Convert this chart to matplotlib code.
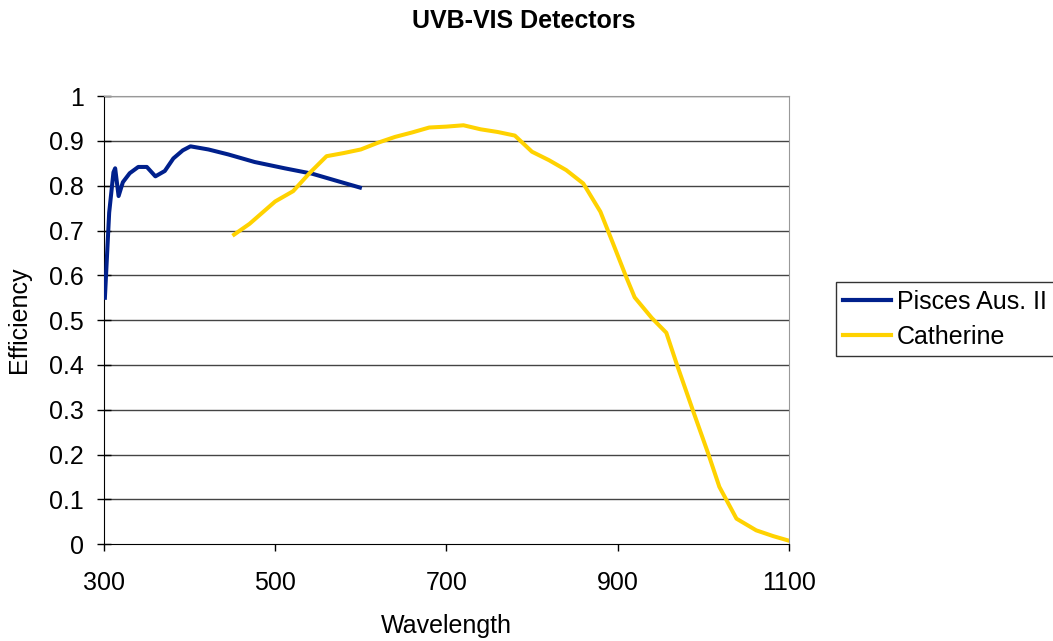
import matplotlib
matplotlib.use("Agg")
import matplotlib.pyplot as plt

plt.rcParams['font.family'] = ['Liberation Sans', 'DejaVu Sans']

# ==========================
# Data
# ==========================
pisces_wl = [301, 306, 311, 313, 317, 322, 330, 340, 350, 360, 371, 381, 392, 401,
             422, 445, 476, 511, 543, 570, 599]
pisces_eff = [0.55, 0.74, 0.83, 0.839, 0.777, 0.808, 0.828, 0.842, 0.842, 0.821, 0.833,
              0.861, 0.879, 0.888, 0.881, 0.870, 0.853, 0.839, 0.827, 0.812, 0.796]

cath_wl = [452, 470, 485, 500, 521, 540, 560, 580, 600, 620, 640, 660, 680, 700, 720,
           740, 760, 780, 800, 820, 840, 860, 880, 895, 910, 920, 940, 957, 969, 988,
           1006, 1019, 1039, 1062, 1082, 1100]
cath_eff = [0.691, 0.715, 0.74, 0.765, 0.788, 0.828, 0.866, 0.873, 0.881, 0.896, 0.909,
            0.919, 0.930, 0.932, 0.935, 0.926, 0.920, 0.912, 0.876, 0.857, 0.835, 0.805,
            0.742, 0.67, 0.597, 0.551, 0.505, 0.472, 0.403, 0.299, 0.202, 0.128, 0.057,
            0.031, 0.018, 0.008]

x_ticks = [300, 500, 700, 900, 1100]
y_ticks = [0, 0.1, 0.2, 0.3, 0.4, 0.5, 0.6, 0.7, 0.8, 0.9, 1]
y_labels = ['0', '0.1', '0.2', '0.3', '0.4', '0.5', '0.6', '0.7', '0.8', '0.9', '1']

# ==========================
# Plot
# ==========================
fig = plt.figure(figsize=(10.53, 6.41), dpi=100)
ax = fig.add_axes([0.0988, 0.151, 0.6502, 0.699])

for y in y_ticks[1:]:
    ax.axhline(y, color='#444444', lw=1.0, zorder=1)

ax.plot(pisces_wl, pisces_eff, color='#00208C', lw=2.9, label='Pisces Aus. II', zorder=3)
ax.plot(cath_wl, cath_eff, color='#FFD200', lw=2.9, label='Catherine', zorder=3)

ax.set_xlim(300, 1100)
ax.set_ylim(0, 1)
ax.set_xticks(x_ticks)
ax.set_xticklabels([str(v) for v in x_ticks])
ax.set_yticks(y_ticks)
ax.set_yticklabels(y_labels)
ax.tick_params(labelsize=18, width=1, colors='black')
ax.tick_params(axis='x', direction='out', length=5, pad=14)
ax.tick_params(axis='y', direction='inout', length=9.5, pad=9.5)

ax.spines['left'].set_color('black')
ax.spines['bottom'].set_color('black')
ax.spines['right'].set_color('#999999')
ax.spines['top'].set_color('#999999')

ax.set_xlabel('Wavelength', fontsize=18, labelpad=14)
ax.set_ylabel('Efficiency', fontsize=18, labelpad=13)
fig.text(0.497, 1 - 21 / 641, 'UVB-VIS Detectors', fontsize=18, fontweight='bold',
         ha='center', va='center')

leg = ax.legend(loc='upper left', bbox_to_anchor=(1.0686, 0.585), fontsize=18,
                frameon=True, fancybox=False, handlelength=1.9, borderpad=0.3,
                labelspacing=0.45, handletextpad=0.25, borderaxespad=0)
leg.get_frame().set_edgecolor('black')
leg.get_frame().set_linewidth(1.0)
for line in leg.get_lines():
    line.set_linewidth(3)

fig.savefig('out.png', dpi=100)
